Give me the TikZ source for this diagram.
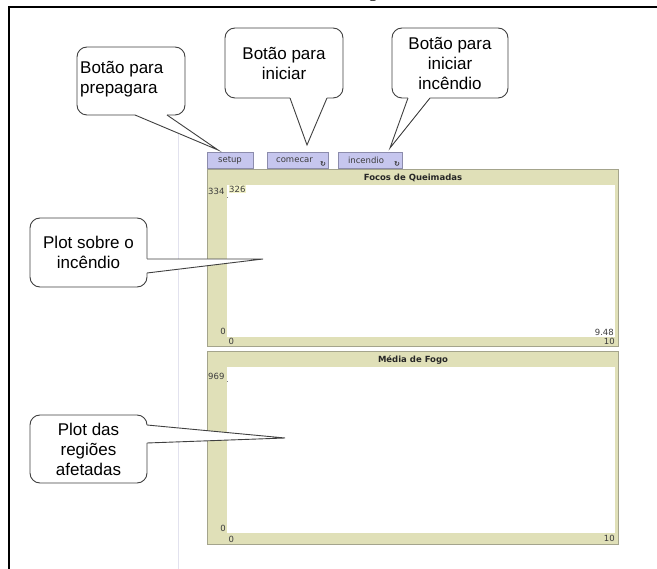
\documentclass[tikz,border=0pt]{standalone}
\usepackage{fontspec}
\newfontfamily\callfont{Liberation Sans}
\newfontfamily\uifont{DejaVu Sans}
\newfontfamily\capfont{Liberation Serif}

\definecolor{band}{HTML}{E0E0B8}
\definecolor{bandedge}{HTML}{A4A48C}
\definecolor{btnfill}{HTML}{C6C6EE}
\definecolor{btnedge}{HTML}{8C8CAC}
\definecolor{sepline}{HTML}{E2E2EE}
\definecolor{labelgray}{HTML}{3C3C3C}
\definecolor{calledge}{HTML}{404040}
\definecolor{hilite}{HTML}{F2F2C8}

\tikzset{
  callbox/.style={draw=calledge, fill=white, line width=0.9pt, rounded corners=10pt},
  callptr/.style={draw=calledge, line width=0.9pt, line join=miter},
  calltext/.style={font={\callfont\fontsize{17}{20}\selectfont}, align=center, inner sep=0pt},
  btn/.style={draw=btnedge, fill=btnfill, line width=0.8pt, minimum height=16,
              inner sep=0pt, font={\uifont\fontsize{8.5}{10}\selectfont}, text=labelgray},
  plotframe/.style={draw=bandedge, fill=band, line width=1pt},
  plotarea/.style={fill=white},
  plottitle/.style={font={\uifont\bfseries\fontsize{8.5}{10}\selectfont}, text=black!85, inner sep=0pt},
  axislbl/.style={font={\uifont\fontsize{8.5}{10}\selectfont}, text=labelgray, inner sep=0pt},
  loopicon/.style={font={\uifont\bfseries\fontsize{7}{7}\selectfont}, text=black!80, inner sep=0pt}
}

\begin{document}
\begin{tikzpicture}[x=1pt, y=-1pt]
\useasboundingbox (0,0) rectangle (657,569);
\clip (0,0) rectangle (657,569);

% caption line above the figure, cut off by the frame
\node[font={\capfont\fontsize{18}{20}\selectfont}, anchor=base, inner sep=0pt] (capg) at (373,-2.5) {g};

% figure frame
\draw[line width=2pt] (9,572) -- (9,7) -- (662,7);

% separator between the interface panels
\draw[sepline, line width=1pt] (178,128) -- (178,572);

% buttons
\node[btn, minimum width=46] (setup) at (230,160) {setup};
\node[btn, minimum width=61] (comecar) at (297.5,160) {\hspace*{-6pt}comecar};
\node[btn, minimum width=64] (incendio) at (370,160) {\hspace*{-8pt}incendio};
\node[loopicon] (loopA) at (323,164) {↻};
\node[loopicon] (loopB) at (397,164) {↻};

% plot: Focos de Queimadas
\draw[plotframe] (207,170) rectangle (618,347);
\fill[plotarea] (227,185) rectangle (615,337);
\node[plottitle] (t1) at (413,178) {Focos de Queimadas};
\node[axislbl, anchor=west] (y1max) at (208,191) {334};
\node[axislbl, anchor=west, fill=hilite, inner sep=0.5pt] (y1cur) at (228.5,189) {326};
\fill[gray] (227,197) rectangle (228,198);
\node[axislbl, anchor=east] (y1min) at (226,331) {0};
\node[axislbl, anchor=west] (x1min) at (228.5,341.5) {0};
\node[axislbl, anchor=east] (x1cur) at (614,332.5) {9.48};
\node[axislbl, anchor=east] (x1max) at (615,341.5) {10};

% plot: Media de Fogo
\draw[plotframe] (207,352) rectangle (618,545);
\fill[plotarea] (227,367) rectangle (615,533);
\node[plottitle] (t2) at (413,360) {Média de Fogo};
\node[axislbl, anchor=west] (y2max) at (208,376) {969};
\fill[gray] (227,381) rectangle (228,382);
\node[axislbl, anchor=east] (y2min) at (226,528) {0};
\node[axislbl, anchor=west] (x2min) at (228.5,539) {0};
\node[axislbl, anchor=east] (x2max) at (615,538.5) {10};

% pointer tips
\coordinate (tipA) at (218,150);
\coordinate (tipB) at (307,145);
\coordinate (tipC) at (390,148);
\coordinate (tipD) at (263,259);
\coordinate (tipE) at (285,438);

% callout: setup
\draw[callbox] (77,47) rectangle (185,115);
\fill[white] (135,113) -- (135,115) -- (tipA) -- (167,115) -- (167,113) -- cycle;
\draw[callptr] (135,115) -- (tipA) -- (167,115);
\node[calltext, align=left, anchor=north west] (cA) at (80,61) {Botão para\\prepagara};

% callout: comecar
\draw[callbox] (225,28) rectangle (343,98);
\fill[white] (290,96) -- (290,98) -- (tipB) -- (327,98) -- (327,96) -- cycle;
\draw[callptr] (290,98) -- (tipB) -- (327,98);
\node[calltext] (cB) at (284,63) {Botão para\\iniciar};

% callout: incendio
\draw[callbox] (392,28) rectangle (508,98);
\fill[white] (408,96) -- (408,98) -- (tipC) -- (430,98) -- (430,96) -- cycle;
\draw[callptr] (408,98) -- (tipC) -- (430,98);
\node[calltext] (cC) at (450,63.5) {Botão para\\iniciar\\incêndio};

% callout: first plot
\draw[callbox] (30,218) rectangle (147,287);
\fill[white] (145,259) -- (147,259) -- (tipD) -- (147,273) -- (145,273) -- cycle;
\draw[callptr] (147,259) -- (tipD) -- (147,273);
\node[calltext] (cD) at (88.5,252) {Plot sobre o\\incêndio};

% callout: second plot
\draw[callbox] (30,415) rectangle (147,483);
\fill[white] (145,425) -- (147,425) -- (tipE) -- (147,443) -- (145,443) -- cycle;
\draw[callptr] (147,425) -- (tipE) -- (147,443);
\node[calltext] (cE) at (88.5,449) {Plot das\\regiões\\afetadas};
\end{tikzpicture}
\end{document}
